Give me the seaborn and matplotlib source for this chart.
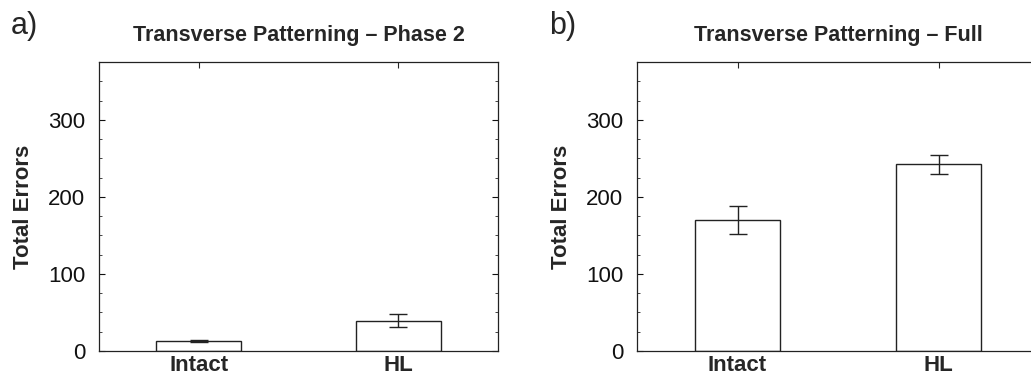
import matplotlib
matplotlib.use("Agg")
import matplotlib.pyplot as plt
from matplotlib.ticker import MultipleLocator
import seaborn as sns
import pandas as pd

groups = ["Intact", "HL"]
phase2_means = [13, 39]
phase2_sem = [1, 8.5]
full_means = [170, 242]
full_sem = [18.5, 12.5]
titles = ["Transverse Patterning \u2013 Phase 2", "Transverse Patterning \u2013 Full"]
panel_labels = ["a)", "b)"]

sns.set_theme(style="white")
plt.rcParams['font.family'] = ['Liberation Sans', 'DejaVu Sans']

W, H = 1031, 381
fig = plt.figure(figsize=(W / 100, H / 100), dpi=100)

axes_px = [(99, 62, 498, 351), (637, 62, 1039, 351)]
datasets = [(phase2_means, phase2_sem), (full_means, full_sem)]
label_x = [11, 549]

for i, ((x0, y0, x1, y1), (means, sems)) in enumerate(zip(axes_px, datasets)):
    ax = fig.add_axes([x0 / W, 1 - y1 / H, (x1 - x0) / W, (y1 - y0) / H])
    df = pd.DataFrame({"group": groups, "errors": means})
    sns.barplot(data=df, x="group", y="errors", ax=ax, color="white",
                edgecolor="#222222", linewidth=1.0, width=0.425,
                errorbar=None, saturation=1)
    ax.errorbar(range(len(groups)), means, yerr=sems, fmt="none",
                ecolor="#222222", elinewidth=1.0, capsize=6.5, capthick=1.0)
    ax.set_xlim(-0.5, 1.5)
    ax.set_ylim(0, 375)
    ax.yaxis.set_major_locator(MultipleLocator(100))
    ax.yaxis.set_minor_locator(MultipleLocator(25))
    ax.tick_params(axis="y", which="major", direction="in", length=4, width=0.8,
                   left=True, right=True, labelsize=16, pad=10, colors="#111111")
    ax.tick_params(axis="y", which="minor", direction="in", length=2.5, width=0.6,
                   left=True, right=True)
    ax.tick_params(axis="x", which="major", direction="in", length=4, width=0.8,
                   bottom=False, top=True, labelsize=16, pad=3)
    for lbl in ax.get_xticklabels():
        lbl.set_fontweight("bold")
    ax.set_xlabel("")
    ax.set_ylabel("Total Errors", fontsize=16, fontweight="bold", labelpad=10)
    ax.set_title(titles[i], fontsize=15.5, fontweight="bold", pad=15)
    for sp in ax.spines.values():
        sp.set_color("#222222")
        sp.set_linewidth(0.9)
    fig.text(label_x[i] / W, 1 - 26 / H, panel_labels[i], fontsize=22,
             ha="left", va="center")

fig.savefig("out.png", dpi=100)
